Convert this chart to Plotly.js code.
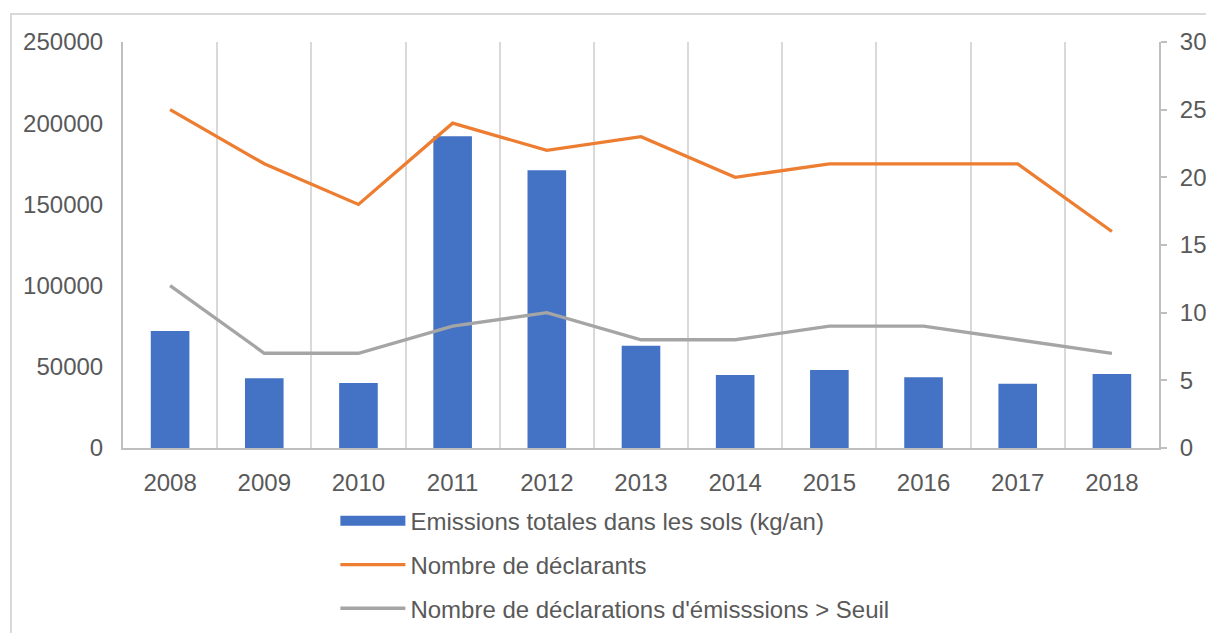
<!DOCTYPE html>
<html><head><meta charset="utf-8">
<script src="https://cdn.plot.ly/plotly-3.0.1.min.js"></script>
<style>
html,body{margin:0;padding:0;background:#fff;}
#wrap{position:relative;width:1206px;height:633px;overflow:hidden;}
#frame{position:absolute;left:10px;top:13px;width:1220px;height:700px;border:2px solid #d9d9d9;box-sizing:border-box;pointer-events:none;z-index:5;}
#chart{position:absolute;left:0;top:0;width:1206px;height:633px;}
</style></head>
<body><div id="wrap"><div id="chart"></div><div id="frame"></div></div>
<script>
const years = ['2008','2009','2010','2011','2012','2013','2014','2015','2016','2017','2018'];
const emissions = [72000, 43000, 40000, 192000, 171000, 63000, 45000, 48000, 43500, 39500, 45500];
const declarants = [25, 21, 18, 24, 22, 23, 20, 21, 21, 21, 16];
const declarationsSeuil = [12, 7, 7, 9, 10, 8, 8, 9, 9, 8, 7];
const leftTicks = [0, 50000, 100000, 150000, 200000, 250000];
const rightTicks = [0, 5, 10, 15, 20, 25, 30];
const seriesNames = ['Emissions totales dans les sols (kg/an)', 'Nombre de déclarants', "Nombre de déclarations d'émisssions > Seuil"];

const font = {family: 'Liberation Sans, Arial, sans-serif', size: 24, color: '#595959'};
const traces = [
  {type:'bar', x: years, y: emissions, name: seriesNames[0],
   marker:{color:'#4472C4'}, showlegend:false, yaxis:'y'},
  // legend swatch for the bar series (wide rectangle like the reference)
  {type:'scatter', mode:'lines', x:[null], y:[null], name: seriesNames[0],
   line:{color:'#4472C4', width:17}, legendgroup:'a', yaxis:'y', hoverinfo:'skip'},
  {type:'scatter', mode:'lines', x: years, y: declarants, name: seriesNames[1],
   line:{color:'#ED7D31', width:3.3}, legendgroup:'b', yaxis:'y2'},
  {type:'scatter', mode:'lines', x: years, y: declarationsSeuil, name: seriesNames[2],
   line:{color:'#A5A5A5', width:3.3}, legendgroup:'c', yaxis:'y2'}
];
const layout = {
  width:1206, height:633,
  margin:{l:123, r:47, t:42, b:185, autoexpand:false},
  paper_bgcolor:'#fff', plot_bgcolor:'#fff',
  font: font,
  bargap:0.59,
  showlegend:true,
  legend:{x:0.205, xanchor:'left', y:-0.125, yanchor:'top', orientation:'v',
    traceorder:'grouped', tracegroupgap:9.5, itemwidth:65, font:font, bgcolor:'rgba(0,0,0,0)'},
  xaxis:{type:'category', showgrid:true, gridcolor:'#d9d9d9', gridwidth:2, tickson:'boundaries',
    ticks:'', showline:true, linecolor:'#bfbfbf', linewidth:2, ticklabelstandoff:12, tickfont:font, zeroline:false},
  yaxis:{range:[0,250000], tickvals:leftTicks, ticktext:leftTicks.map(String), showgrid:false, zeroline:false,
    showline:true, linecolor:'#bfbfbf', linewidth:2, ticks:'', ticklabelstandoff:13, tickfont:font},
  yaxis2:{range:[0,30], tickvals:rightTicks, overlaying:'y', side:'right', showgrid:false, zeroline:false,
    showline:true, linecolor:'#bfbfbf', linewidth:2, ticks:'outside', ticklen:6, tickcolor:'#bfbfbf', tickwidth:2,
    ticklabelstandoff:8, tickfont:font}
};
Plotly.newPlot('chart', traces, layout, {displayModeBar:false, staticPlot:true});
</script></body></html>
